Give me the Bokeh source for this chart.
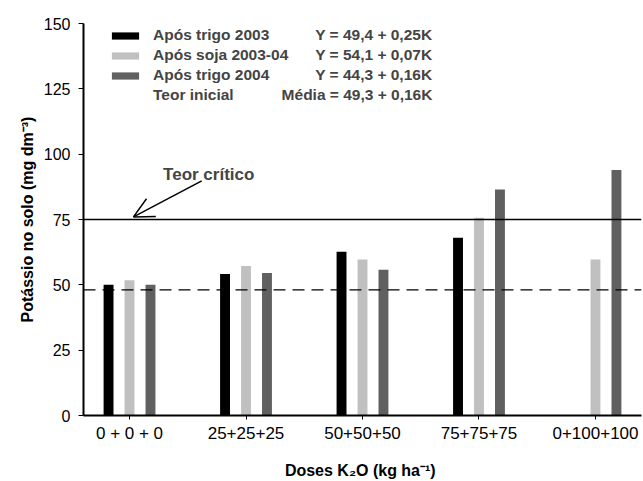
import math
import numpy as np
from bokeh.plotting import figure
from bokeh.models import (Range1d, FixedTicker, Legend, LegendItem, Span, Arrow,
                          OpenHead, Label)
from bokeh.embed import file_html
from bokeh.resources import INLINE

# ---- data ----
categories = ["0 + 0 + 0", "25+25+25", "50+50+50", "75+75+75", "0+100+100"]
trigo_2003 = [50.0, 54.1, 62.7, 68.0, math.nan]
soja_2003_04 = [51.8, 57.2, 59.7, 75.7, 59.7]
trigo_2004 = [50.0, 54.5, 55.8, 86.5, 93.9]
series_names = ["Após trigo 2003", "Após soja 2003-04", "Após trigo 2004"]
equations = ["Y = 49,4 + 0,25K", "Y = 54,1 + 0,07K", "Y = 44,3 + 0,16K",
             "Média = 49,3 + 0,16K"]
line_name = "Teor inicial"
critical_level = 75.0
initial_level = 48.1
y_ticks = [0, 25, 50, 75, 100, 125, 150]

FONT = "Liberation Sans"

p = figure(width=643, height=481, output_backend="svg", toolbar_location=None,
           x_range=Range1d(-0.395, 4.395), y_range=Range1d(0, 150),
           min_border_left=83, min_border_right=2, min_border_top=23,
           min_border_bottom=10)
p.outline_line_color = None
p.xgrid.visible = False
p.ygrid.visible = False
p.background_fill_color = "white"

idx = np.arange(len(categories))
colors = ["#000000", "#c0c0c0", "#606060"]
offsets = [-0.18, 0.0, 0.18]
bar_w = 0.085
renderers = []
for vals, col, off in zip([trigo_2003, soja_2003_04, trigo_2004], colors, offsets):
    r = p.vbar(x=idx + off, top=vals, bottom=0, width=bar_w,
               fill_color=col, line_color=None)
    renderers.append(r)

line_r = p.line(x=[], y=[], line_color="black", line_width=1)

# reference lines
p.add_layout(Span(location=critical_level, dimension="width",
                  line_color="black", line_width=1.6))
p.add_layout(Span(location=initial_level, dimension="width",
                  line_color="black", line_width=1.2, line_dash="12 7"))

# annotation arrow
p.add_layout(Arrow(end=OpenHead(size=20, line_width=1.5, line_color="black"),
                   x_start=0.62, y_start=89.8, x_end=0.034, y_end=76.0,
                   line_width=1.5, line_color="black"))
p.add_layout(Label(x=0.68, y=92.4, text="Teor crítico", text_align="center",
                   text_baseline="middle", text_font=FONT,
                   text_font_style="bold", text_font_size="17px"))

# legend
items = [LegendItem(label=n, renderers=[r]) for n, r in zip(series_names, renderers)]
items.append(LegendItem(label=line_name, renderers=[line_r]))
legend = Legend(items=items, location=(25, 311), border_line_color=None,
                background_fill_alpha=0, padding=0, margin=0, spacing=2,
                glyph_width=34, glyph_height=9, label_standoff=11,
                label_height=14, label_text_font=FONT,
                label_text_font_style="bold", label_text_font_size="15.5px")
p.add_layout(legend)

row_y = [145.8, 138.2, 130.4, 122.8]
for eq, yy in zip(equations, row_y):
    p.add_layout(Label(x=2.6, y=yy, text=eq, text_align="right",
                       text_baseline="middle", text_font=FONT,
                       text_font_style="bold", text_font_size="15.5px"))

# axes
p.xaxis.ticker = FixedTicker(ticks=list(idx))
p.xaxis.major_label_overrides = {int(i): c for i, c in zip(idx, categories)}
p.yaxis.ticker = FixedTicker(ticks=y_ticks)
for ax in (p.xaxis, p.yaxis):
    ax.axis_line_width = 2
    ax.axis_line_color = "black"
    ax.major_tick_in = 0
    ax.minor_tick_line_color = None
    ax.major_tick_line_color = "black"
    ax.major_label_text_font = FONT
    ax.major_label_text_font_size = "17px"
    ax.major_label_text_color = "black"
    ax.axis_label_text_font = FONT
    ax.axis_label_text_font_style = "bold"
    ax.axis_label_text_font_size = "16px"
    ax.axis_label_text_color = "black"
p.yaxis.major_label_text_font_size = "16px"
p.yaxis.major_tick_out = 5
p.xaxis.major_tick_out = 4
p.yaxis.major_label_standoff = 8
p.xaxis.major_label_standoff = 4
p.yaxis.axis_label = "Potássio no solo (mg dm⁻³)"
p.xaxis.axis_label = "Doses K₂O  (kg ha⁻¹)"
p.yaxis.axis_label_standoff = 5
p.xaxis.axis_label_standoff = 16

open("out.html", "w").write(file_html(p, INLINE))
